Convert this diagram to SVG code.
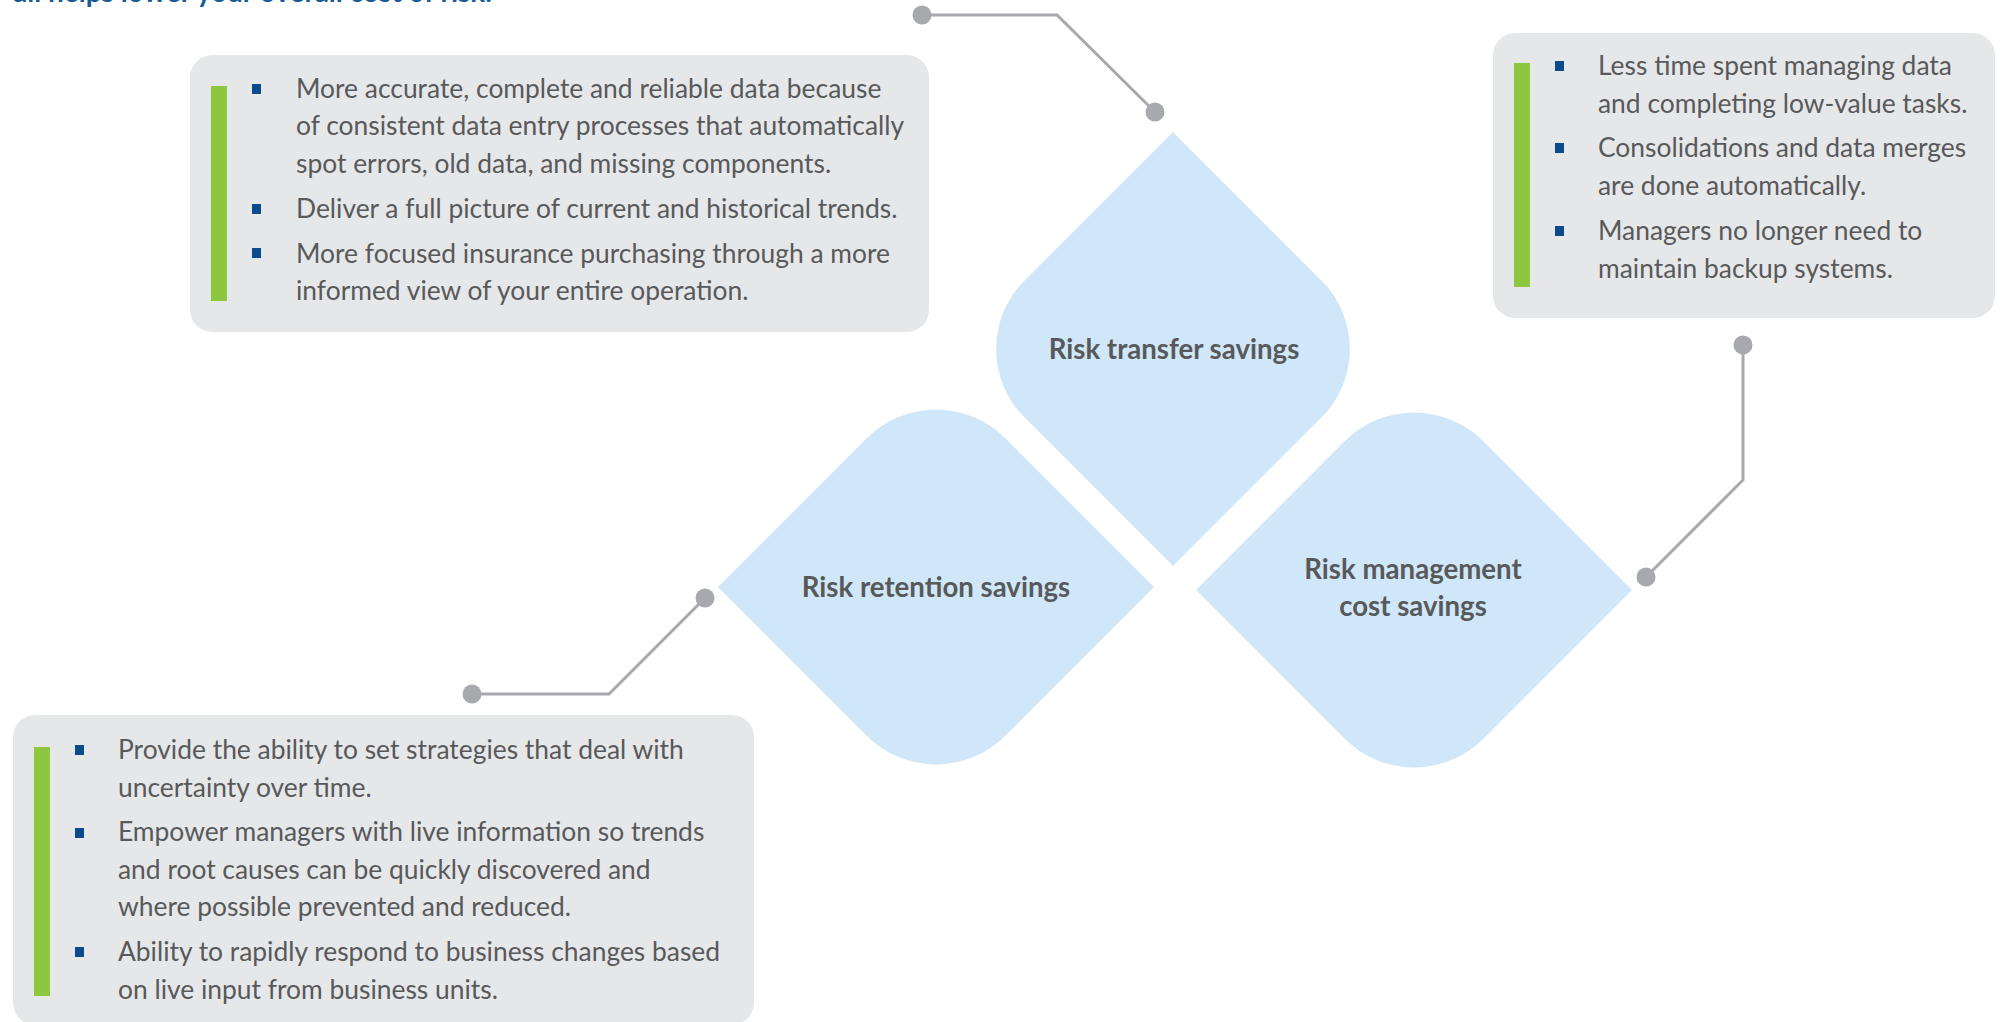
<svg xmlns="http://www.w3.org/2000/svg" width="2000" height="1022" viewBox="0 0 2000 1022">
<style>
.box{fill:#e6e7e8}
.bar{fill:#8dc63f}
.bul{fill:#0b4a8b}
.txt{font-family:Lato,"Open Sans","Liberation Sans",sans-serif;font-size:26.4px;fill:#58595b}
.lbl{font-family:Lato,"Open Sans","Liberation Sans",sans-serif;font-size:27.6px;font-weight:bold;fill:#58595b;text-anchor:middle}
.dia{fill:#cfe7f8}
.con{fill:none;stroke:#a7a9ac;stroke-width:3}
.dot{fill:#a7a9ac}
.ttl{font-family:Lato,"Open Sans","Liberation Sans",sans-serif;font-size:28px;font-weight:bold;fill:#1a5a96}
</style>
<text class="ttl" x="13" y="2">all helps lower your overall cost of risk.</text>

<g id="connectors">
<polyline class="con" points="922,15 1057,15 1155,112"/>
<polyline class="con" points="1743,345 1743,480 1646,577"/>
<polyline class="con" points="705,598 609,694 472,694"/>
<circle class="dot" cx="922" cy="15" r="9.5"/>
<circle class="dot" cx="1155" cy="112" r="9.5"/>
<circle class="dot" cx="1743" cy="345" r="9.5"/>
<circle class="dot" cx="1646" cy="577" r="9.5"/>
<circle class="dot" cx="705" cy="598" r="9.5"/>
<circle class="dot" cx="472" cy="694" r="9.5"/>
</g>

<g id="box-top-left">
<rect class="box" x="190" y="55" width="739" height="277" rx="22"/>
<rect class="bar" x="211" y="86" width="16" height="215"/>
<rect class="bul" x="252" y="84" width="9" height="10"/>
<rect class="bul" x="252" y="204" width="9" height="10"/>
<rect class="bul" x="252" y="248" width="9" height="10"/>
<text class="txt" x="296" y="97.5">More accurate, complete and reliable data because</text>
<text class="txt" x="296" y="135">of consistent data entry processes that automatically</text>
<text class="txt" x="296" y="172.5">spot errors, old data, and missing components.</text>
<text class="txt" x="296" y="217.5">Deliver a full picture of current and historical trends.</text>
<text class="txt" x="296" y="262.5">More focused insurance purchasing through a more</text>
<text class="txt" x="296" y="300">informed view of your entire operation.</text>
</g>

<g id="box-top-right">
<rect class="box" x="1493" y="33" width="502" height="285" rx="22"/>
<rect class="bar" x="1514" y="63" width="16" height="224"/>
<rect class="bul" x="1555" y="61" width="9" height="10"/>
<rect class="bul" x="1555" y="143" width="9" height="10"/>
<rect class="bul" x="1555" y="226" width="9" height="10"/>
<text class="txt" x="1598" y="75">Less time spent managing data</text>
<text class="txt" x="1598" y="112.5">and completing low-value tasks.</text>
<text class="txt" x="1598" y="157">Consolidations and data merges</text>
<text class="txt" x="1598" y="194.5">are done automatically.</text>
<text class="txt" x="1598" y="240">Managers no longer need to</text>
<text class="txt" x="1598" y="277.5">maintain backup systems.</text>
</g>

<g id="box-bottom-left">
<rect class="box" x="13" y="715" width="741" height="310" rx="22"/>
<rect class="bar" x="34" y="747" width="16" height="249"/>
<rect class="bul" x="75" y="745" width="9" height="10"/>
<rect class="bul" x="75" y="828" width="9" height="10"/>
<rect class="bul" x="75" y="947" width="9" height="10"/>
<text class="txt" x="118" y="759">Provide the ability to set strategies that deal with</text>
<text class="txt" x="118" y="796.5">uncertainty over time.</text>
<text class="txt" x="118" y="841">Empower managers with live information so trends</text>
<text class="txt" x="118" y="878.5">and root causes can be quickly discovered and</text>
<text class="txt" x="118" y="916">where possible prevented and reduced.</text>
<text class="txt" x="118" y="961">Ability to rapidly respond to business changes based</text>
<text class="txt" x="118" y="998.5">on live input from business units.</text>
</g>

<g id="node-risk-transfer">
<path class="dia" d="M1173 132 L1024.6 280.4 A97 97 0 0 0 1024.6 417.6 L1173 566 L1321.4 417.6 A97 97 0 0 0 1321.4 280.4 Z"/>
<text class="lbl" x="1174" y="359">Risk transfer savings</text>
</g>

<g id="node-risk-retention">
<path class="dia" d="M718 587 L866.7 438.3 A98 98 0 0 1 1005.3 438.3 L1154 587 L1005.3 735.7 A98 98 0 0 1 866.7 735.7 Z"/>
<text class="lbl" x="936" y="597">Risk retention savings</text>
</g>

<g id="node-risk-management">
<path class="dia" d="M1196 590 L1344.7 441.3 A98 98 0 0 1 1483.3 441.3 L1632 590 L1483.3 738.7 A98 98 0 0 1 1344.7 738.7 Z"/>
<text class="lbl" x="1413" y="579">Risk management</text>
<text class="lbl" x="1413" y="616">cost savings</text>
</g>
</svg>
